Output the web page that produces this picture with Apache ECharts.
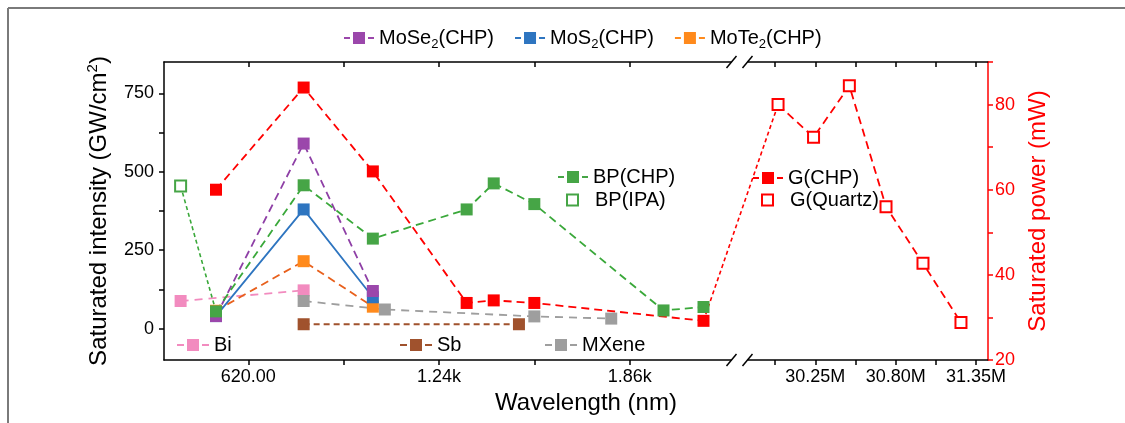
<!DOCTYPE html>
<html><head><meta charset="utf-8">
<script src="https://cdn.jsdelivr.net/npm/echarts@6/dist/echarts.min.js"></script>
<style>html,body{margin:0;padding:0;background:#fff;} #c{width:1125px;height:423px;}</style>
</head><body><div id="c"></div>
<script>
// ---------------- data (wavelength in nm, value) ----------------
const biData      = [[400, 88], [800, 122]];
const sbData      = [[800, 14], [1500, 14]];
const mxeneData   = [[800, 88], [1064, 61], [1550, 39], [1800, 32]];
const moTe2Data   = [[515, 57], [800, 215], [1025, 70]];
const moS2Data    = [[515, 40], [800, 380], [1025, 100]];
const moSe2Data   = [[515, 40], [800, 590], [1025, 120]];
const bpIpaData   = [[400, 455]];
const bpChpData   = [[515, 55], [800, 457], [1025, 287], [1330, 380], [1418, 463], [1550, 397], [1970, 58], [2100, 69]];
// saturated power (mW), right axis
const gChpData    = [[515, 60], [800, 84], [1025, 64.3], [1330, 33.4], [1418, 34], [1550, 33.4], [2100, 29.2]];
const gQuartzData = [[29.995e6, 80], [30.238e6, 72.3], [30.483e6, 84.4], [30.734e6, 56], [30.987e6, 42.7], [31.247e6, 28.8]];

// ---------------- tick values ----------------
const xLabelsLeft  = [620, 1240, 1860];
const xLabelsRight = [30.25e6, 30.80e6, 31.35e6];
const xMinorLeft   = [930, 1550];
const xMinorRight  = [29.975e6, 30.525e6, 31.075e6];
const yLeftLabels  = [0, 250, 500, 750];
const yLeftTicks   = [0, 125, 250, 375, 500, 625, 750];
const yRightLabels = [20, 40, 60, 80];

// ---------------- broken x axis mapping ----------------
const X_MIN = 346, LEFT_END = 2170, GAP_U = 94;
const RIGHT_START = 29.83e6, RIGHT_END = 31.432e6, RIGHT_SCALE = 4.75e-4;
const Y_MIN = -100, Y_MAX = 850;
function toU(w) { return w < 1e6 ? w : LEFT_END + GAP_U + (w - RIGHT_START) * RIGHT_SCALE; }
function fromU(u) { return u <= LEFT_END + GAP_U / 2 ? u : RIGHT_START + (u - LEFT_END - GAP_U) / RIGHT_SCALE; }
const mapPts = d => d.map(p => [toU(p[0]), p[1]]);

const FONT = 'Liberation Sans, Arial, sans-serif';
const C = {
  bi: '#f28bbf', sb: '#a0522d', mx: '#9e9e9e',
  te: '#ff8a1c', teLine: '#e8601c', s2: '#2e75c0', se: '#9b47ab', seLine: '#8e3fa6',
  bp: '#46a546', bpLine: '#3aa83a', g: '#ff0000'
};

function lineSeries(name, data, color, lineColor, dash, yIdx) {
  return {
    type: 'line', name: name, data: mapPts(data), xAxisIndex: 0, yAxisIndex: yIdx || 0,
    symbol: 'rect', symbolSize: 12, showSymbol: true,
    itemStyle: { color: color, borderWidth: 0 },
    lineStyle: { color: lineColor || color, width: 1.8, type: dash },
    emphasis: { disabled: true }, animation: false
  };
}

const series = [
  lineSeries('Bi', biData, C.bi, C.bi, [8, 6]),
  lineSeries('Sb', sbData, C.sb, C.sb, [6, 4]),
  lineSeries('MXene', mxeneData, C.mx, C.mx, [8, 6]),
  lineSeries('MoTe2(CHP)', moTe2Data, C.te, C.teLine, [8, 5]),
  lineSeries('MoS2(CHP)', moS2Data, C.s2, C.s2, 'solid'),
  lineSeries('MoSe2(CHP)', moSe2Data, C.se, C.seLine, [8, 5]),
  { type: 'line', name: '_bpLink', data: mapPts([bpIpaData[0], bpChpData[0]]), symbol: 'none',
    lineStyle: { color: C.bpLine, width: 1.6, type: [4, 3] }, emphasis: { disabled: true }, animation: false },
  { type: 'line', name: 'BP(IPA)', data: mapPts(bpIpaData), symbol: 'rect', symbolSize: 11,
    itemStyle: { color: '#fff', borderColor: C.bp, borderWidth: 2 }, lineStyle: { width: 0 },
    emphasis: { disabled: true }, animation: false },
  lineSeries('BP(CHP)', bpChpData, C.bp, C.bpLine, [8, 5]),
  { type: 'line', name: '_gLink', yAxisIndex: 1, data: mapPts([gChpData[gChpData.length - 1], gQuartzData[0]]), symbol: 'none',
    lineStyle: { color: C.g, width: 1.6, type: [4, 3] }, emphasis: { disabled: true }, animation: false },
  lineSeries('G(CHP)', gChpData, C.g, C.g, [8, 5], 1),
  { type: 'line', name: 'G(Quartz)', yAxisIndex: 1, data: mapPts(gQuartzData), symbol: 'rect', symbolSize: 11,
    itemStyle: { color: '#fff', borderColor: C.g, borderWidth: 2 },
    lineStyle: { color: C.g, width: 1.8, type: [8, 5] }, emphasis: { disabled: true }, animation: false },
  { type: 'custom', name: '_break', xAxisIndex: 0, yAxisIndex: 0, silent: true, z: 10, clip: false,
    data: [[LEFT_END, 0]],
    renderItem: function (params, api) {
      const xL = api.coord([LEFT_END, Y_MIN])[0];
      const xR = api.coord([LEFT_END + GAP_U, Y_MIN])[0];
      const cx = (xL + xR) / 2;
      const ys = [api.coord([LEFT_END, Y_MIN])[1], api.coord([LEFT_END, Y_MAX])[1]];
      const children = [];
      ys.forEach(function (y) {
        children.push({ type: 'rect', shape: { x: cx - 8, y: y - 3, width: 16, height: 6 }, style: { fill: '#fff' } });
        [-8, 8].forEach(function (d) {
          children.push({ type: 'line', shape: { x1: cx + d - 5, y1: y + 6, x2: cx + d + 5, y2: y - 6 },
            style: { stroke: '#000', lineWidth: 1.5 } });
        });
      });
      return { type: 'group', children: children };
    }
  }
];

// "-■-" legend icons (dash, square, dash)
const ICON30 = 'path://M0,5.1H6V6.9H0ZM9,0H21V12H9ZM24,5.1H30V6.9H24Z';
const ICON32 = 'path://M0,5.1H7V6.9H0ZM10,0H22V12H10ZM25,5.1H32V6.9H25Z';

function legendBase(extra) {
  return Object.assign({
    orient: 'horizontal', padding: 0, itemWidth: 30, itemHeight: 15, itemGap: 18,
    selectedMode: false, icon: ICON30,
    textStyle: { fontSize: 20, color: '#000', fontFamily: FONT, lineHeight: 22 }
  }, extra);
}
function openLegend(name, color, left, top) {
  return {
    padding: 0, left: left, top: top, itemWidth: 11, itemHeight: 11, selectedMode: false,
    data: [{ name: name, icon: 'rect', itemStyle: { color: '#fff', borderColor: color, borderWidth: 2 } }],
    textStyle: { fontSize: 20, color: '#000', fontFamily: FONT, lineHeight: 22, padding: [0, 0, 0, 12] }
  };
}

const xLabelVals = xLabelsLeft.concat(xLabelsRight.map(toU));
const xTickVals = xLabelsLeft.concat(xMinorLeft, xLabelsRight.map(toU), xMinorRight.map(toU)).sort((a, b) => a - b);
function xLabelFmt(u) {
  const w = fromU(u);
  if (w < 1e6) return w < 1000 ? w.toFixed(2) : (w / 1000).toFixed(2) + 'k';
  return (w / 1e6).toFixed(2) + 'M';
}

const option = {
  animation: false,
  textStyle: { fontFamily: FONT },
  grid: { left: 164, right: 137, top: 62, bottom: 63, containLabel: false, outerBoundsMode: 'none' },
  legend: [
    legendBase({ left: 344, top: 25, itemGap: 21, data: ['MoSe2(CHP)', 'MoS2(CHP)', 'MoTe2(CHP)'],
      formatter: n => n.replace('2(', '{sub|2}('),
      textStyle: { fontSize: 20, color: '#000', fontFamily: FONT, lineHeight: 26,
        rich: { sub: { fontSize: 13, lineHeight: 13, verticalAlign: 'bottom', color: '#000', fontFamily: FONT } } } }),
    legendBase({ left: 558, top: 166, data: ['BP(CHP)'] }),
    openLegend('BP(IPA)', C.bp, 566, 189),
    legendBase({ left: 753, top: 167, data: ['G(CHP)'] }),
    openLegend('G(Quartz)', C.g, 761, 189),
    legendBase({ left: 177, top: 334, itemWidth: 32, icon: ICON32, data: ['Bi'] }),
    legendBase({ left: 400, top: 334, itemWidth: 32, icon: ICON32, data: ['Sb'] }),
    legendBase({ left: 545, top: 334, itemWidth: 32, icon: ICON32, data: ['MXene'] })
  ],
  xAxis: [
    { type: 'value', position: 'bottom', min: X_MIN, max: toU(RIGHT_END),
      name: 'Wavelength (nm)', nameLocation: 'middle', nameGap: 21,
      nameTextStyle: { fontSize: 24, color: '#000', fontFamily: FONT, padding: [0, 0, 0, 20] },
      axisLine: { show: true, onZero: false, lineStyle: { color: '#000', width: 1.5 } },
      axisTick: { show: true, inside: false, length: 5, customValues: xTickVals, lineStyle: { color: '#000', width: 1.5 } },
      axisLabel: { customValues: xLabelVals, formatter: xLabelFmt, fontSize: 18, color: '#000', margin: 8, fontFamily: FONT },
      splitLine: { show: false } },
    { type: 'value', position: 'top', min: X_MIN, max: toU(RIGHT_END),
      axisLine: { show: true, onZero: false, lineStyle: { color: '#000', width: 1.5 } },
      axisTick: { show: true, inside: true, length: 5, customValues: xTickVals, lineStyle: { color: '#000', width: 1.5 } },
      axisLabel: { show: false }, splitLine: { show: false } }
  ],
  yAxis: [
    { type: 'value', position: 'left', min: Y_MIN, max: Y_MAX,
      name: 'Saturated intensity (GW/cm{sup|2})', nameLocation: 'middle', nameRotate: 90, nameGap: 33,
      nameTextStyle: { fontSize: 24, color: '#000', fontFamily: FONT, lineHeight: 28,
        rich: { sup: { fontSize: 15, lineHeight: 15, verticalAlign: 'top', color: '#000', fontFamily: FONT } } },
      axisLine: { show: true, onZero: false, lineStyle: { color: '#000', width: 1.5 } },
      axisTick: { show: true, inside: false, length: 5, customValues: yLeftTicks, lineStyle: { color: '#000', width: 1.5 } },
      axisLabel: { customValues: yLeftLabels, fontSize: 18, color: '#000', margin: 10, fontFamily: FONT },
      splitLine: { show: false } },
    { type: 'value', position: 'right', min: 20, max: 90, interval: 10,
      name: 'Saturated power (mW)', nameLocation: 'middle', nameRotate: 90, nameGap: 28,
      nameTextStyle: { fontSize: 24, color: '#ff0000', fontFamily: FONT },
      axisLine: { show: true, onZero: false, lineStyle: { color: '#ff0000', width: 1.5 } },
      axisTick: { show: true, inside: false, length: 5, lineStyle: { color: '#ff0000', width: 1.5 } },
      axisLabel: { customValues: yRightLabels, fontSize: 18, color: '#ff0000', margin: 7, fontFamily: FONT },
      splitLine: { show: false } }
  ],
  graphic: [
    { type: 'line', shape: { x1: 8, y1: 8, x2: 1125, y2: 8 }, style: { stroke: '#7a7a7a', lineWidth: 2 }, silent: true },
    { type: 'line', shape: { x1: 8, y1: 8, x2: 8, y2: 423 }, style: { stroke: '#7a7a7a', lineWidth: 2 }, silent: true }
  ],
  series: series
};

const chart = echarts.init(document.getElementById('c'), null, { renderer: 'canvas' });
chart.setOption(option);
</script></body></html>
